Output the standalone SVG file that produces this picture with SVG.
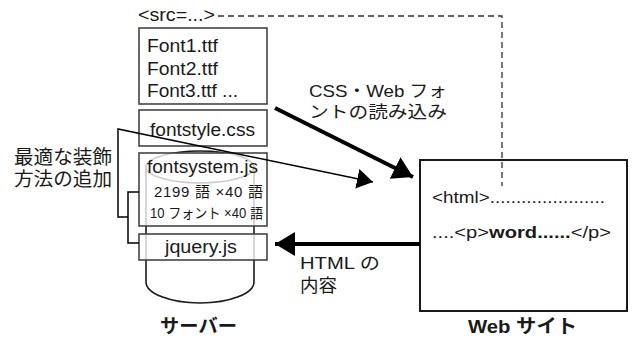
<svg xmlns="http://www.w3.org/2000/svg" width="632" height="338" viewBox="0 0 632 338">
  <style>
    text { font-family: "Liberation Sans", "Noto Sans CJK JP", sans-serif; fill: #1a1a1a; }
    .file { fill: #ffffff; fill-opacity: 0.78; stroke: #444; stroke-width: 1.6; }
    .cyl { fill: none; stroke: #1a1a1a; stroke-width: 1.6; }
    .thin { fill: none; stroke: #000; stroke-width: 1.5; }
    .thick { fill: none; stroke: #000; stroke-width: 4; }
    .dash { fill: none; stroke: #333; stroke-width: 1.3; stroke-dasharray: 6 4; }
    .bold { font-weight: bold; }
  </style>
  <defs>
    <marker id="headThin" markerUnits="userSpaceOnUse" markerWidth="18" markerHeight="22" refX="16" refY="10" orient="auto">
      <path d="M0,0 L16,10 L0,20 Z" fill="#000"/>
    </marker>
    <marker id="headThick" markerUnits="userSpaceOnUse" markerWidth="22" markerHeight="26" refX="20" refY="12" orient="auto">
      <path d="M0,0 L20,12 L0,24 Z" fill="#000"/>
    </marker>
  </defs>

  <!-- server: database cylinder behind the file boxes -->
  <g id="server">
    <ellipse class="cyl" cx="200" cy="167" rx="54" ry="16"/>
    <path class="cyl" d="M146,167 L146,282 A54,21 0 0 0 254,282 L254,167"/>
    <text class="bold" x="160" y="333" font-size="19" textLength="77" lengthAdjust="spacingAndGlyphs">サーバー</text>
  </g>

  <g id="src-label">
    <text x="138" y="21" font-size="18" textLength="77" lengthAdjust="spacingAndGlyphs">&lt;src=...&gt;</text>
  </g>

  <g id="fonts">
    <rect class="file" x="139" y="28" width="128" height="76"/>
    <text x="147" y="52" font-size="18.5" textLength="71" lengthAdjust="spacingAndGlyphs">Font1.ttf</text>
    <text x="147" y="75" font-size="18.5" textLength="71" lengthAdjust="spacingAndGlyphs">Font2.ttf</text>
    <text x="147" y="97" font-size="18.5" textLength="91" lengthAdjust="spacingAndGlyphs">Font3.ttf ...</text>
  </g>

  <g id="fontstyle">
    <rect class="file" x="139" y="110" width="128" height="36"/>
    <text x="150" y="136" font-size="18" textLength="105" lengthAdjust="spacingAndGlyphs">fontstyle.css</text>
  </g>

  <g id="fontsystem">
    <rect class="file" x="139" y="153" width="128" height="73"/>
    <text x="147" y="173" font-size="17.5" textLength="111" lengthAdjust="spacingAndGlyphs">fontsystem.js</text>
    <text x="154" y="197" font-size="15" textLength="109" lengthAdjust="spacing">2199 語 ×40 語</text>
    <text x="150" y="218" font-size="14" textLength="113" lengthAdjust="spacingAndGlyphs">10 フォント ×40 語</text>
  </g>

  <g id="jquery">
    <rect class="file" x="139" y="234" width="128" height="26"/>
    <text x="165" y="253" font-size="18" textLength="72" lengthAdjust="spacingAndGlyphs">jquery.js</text>
  </g>

  <g id="decoration-label">
    <text x="14" y="164" font-size="19" textLength="98" lengthAdjust="spacingAndGlyphs">最適な装飾</text>
    <text x="14" y="186" font-size="19" textLength="98" lengthAdjust="spacingAndGlyphs">方法の追加</text>
  </g>

  <g id="website">
    <rect x="420" y="160" width="207" height="151" fill="#fff" stroke="#1a1a1a" stroke-width="2"/>
    <text x="432" y="203" font-size="17" textLength="173" lengthAdjust="spacingAndGlyphs">&lt;html&gt;......................</text>
    <text x="432" y="238" font-size="17" textLength="179" lengthAdjust="spacingAndGlyphs">....&lt;p&gt;<tspan class="bold">word......</tspan>&lt;/p&gt;</text>
    <text class="bold" x="468" y="333" font-size="19" textLength="109" lengthAdjust="spacingAndGlyphs">Web サイト</text>
  </g>

  <g id="connector-labels">
    <text x="309" y="97" font-size="16.5" textLength="138" lengthAdjust="spacingAndGlyphs">CSS・Web フォ</text>
    <text x="309" y="118" font-size="16.5" textLength="138" lengthAdjust="spacingAndGlyphs">ントの読み込み</text>
    <text x="300" y="269" font-size="17" textLength="80" lengthAdjust="spacingAndGlyphs">HTML の</text>
    <text x="300" y="292" font-size="18" textLength="37" lengthAdjust="spacingAndGlyphs">内容</text>
  </g>

  <g id="connectors">
    <!-- src reference running to the html tag -->
    <path class="dash" d="M218,16 H502 V186"/>
    <!-- CSS and web font loading -->
    <line class="thick" x1="275" y1="108" x2="413" y2="177" marker-end="url(#headThick)"/>
    <!-- HTML content returned to the server -->
    <line class="thick" x1="420" y1="244" x2="275" y2="244" marker-end="url(#headThick)"/>
    <!-- decoration bracket and its arrow -->
    <path class="thin" d="M128,217 H118 V129 L373,182" marker-end="url(#headThin)"/>
    <path class="thin" d="M139,192 H128 V243 H139"/>
  </g>
</svg>
